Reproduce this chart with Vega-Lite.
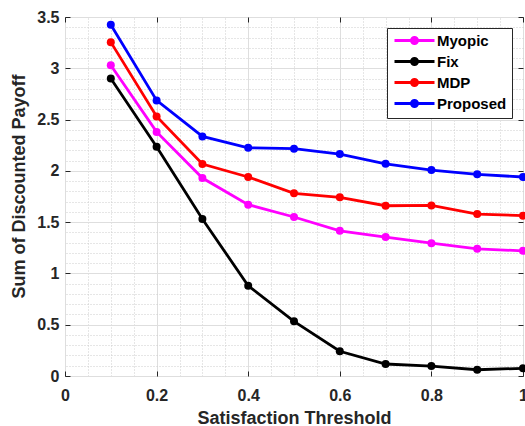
{
  "$schema": "https://vega.github.io/schema/vega-lite/v6.json",
  "width": 458,
  "height": 359,
  "autosize": {"type": "none"},
  "padding": {"left": 65, "top": 17, "right": 2, "bottom": 50},
  "background": "white",
  "config": {
    "view": {"stroke": "#262626", "strokeWidth": 1},
    "font": "Liberation Sans",
    "axis": {"labelFont": "Liberation Sans", "titleFont": "Liberation Sans", "labelColor": "#262626", "titleColor": "#262626"}
  },
  "data": {
    "values": [
      {"t": 0.1, "method": "Myopic", "v": 3.03},
      {"t": 0.2, "method": "Myopic", "v": 2.38},
      {"t": 0.3, "method": "Myopic", "v": 1.93},
      {"t": 0.4, "method": "Myopic", "v": 1.67},
      {"t": 0.5, "method": "Myopic", "v": 1.55},
      {"t": 0.6, "method": "Myopic", "v": 1.415},
      {"t": 0.7, "method": "Myopic", "v": 1.355},
      {"t": 0.8, "method": "Myopic", "v": 1.295},
      {"t": 0.9, "method": "Myopic", "v": 1.24},
      {"t": 1.0, "method": "Myopic", "v": 1.22},
      {"t": 0.1, "method": "Fix", "v": 2.9},
      {"t": 0.2, "method": "Fix", "v": 2.235},
      {"t": 0.3, "method": "Fix", "v": 1.53},
      {"t": 0.4, "method": "Fix", "v": 0.88},
      {"t": 0.5, "method": "Fix", "v": 0.533},
      {"t": 0.6, "method": "Fix", "v": 0.241},
      {"t": 0.7, "method": "Fix", "v": 0.117},
      {"t": 0.8, "method": "Fix", "v": 0.097},
      {"t": 0.9, "method": "Fix", "v": 0.061},
      {"t": 1.0, "method": "Fix", "v": 0.075},
      {"t": 0.1, "method": "MDP", "v": 3.255},
      {"t": 0.2, "method": "MDP", "v": 2.53},
      {"t": 0.3, "method": "MDP", "v": 2.066},
      {"t": 0.4, "method": "MDP", "v": 1.94},
      {"t": 0.5, "method": "MDP", "v": 1.781},
      {"t": 0.6, "method": "MDP", "v": 1.742},
      {"t": 0.7, "method": "MDP", "v": 1.66},
      {"t": 0.8, "method": "MDP", "v": 1.663},
      {"t": 0.9, "method": "MDP", "v": 1.579},
      {"t": 1.0, "method": "MDP", "v": 1.563},
      {"t": 0.1, "method": "Proposed", "v": 3.424},
      {"t": 0.2, "method": "Proposed", "v": 2.687},
      {"t": 0.3, "method": "Proposed", "v": 2.336},
      {"t": 0.4, "method": "Proposed", "v": 2.225},
      {"t": 0.5, "method": "Proposed", "v": 2.216},
      {"t": 0.6, "method": "Proposed", "v": 2.164},
      {"t": 0.7, "method": "Proposed", "v": 2.069},
      {"t": 0.8, "method": "Proposed", "v": 2.008},
      {"t": 0.9, "method": "Proposed", "v": 1.966},
      {"t": 1.0, "method": "Proposed", "v": 1.94}
    ]
  },
  "resolve": {"axis": {"x": "independent", "y": "independent"}},
  "layer": [
    {
      "mark": {"type": "point", "opacity": 0},
      "encoding": {
        "x": {"field": "t", "type": "quantitative", "scale": {"domain": [0, 1], "nice": false, "zero": false},
          "axis": {"orient": "top", "values": [0.05,0.1,0.15,0.2,0.25,0.3,0.35,0.4,0.45,0.5,0.55,0.6,0.65,0.7,0.75,0.8,0.85,0.9,0.95], "grid": true, "gridDash": [1, 2], "gridColor": "#cccccc", "gridWidth": 1, "ticks": false, "labels": false, "domain": false, "title": null}},
        "y": {"field": "v", "type": "quantitative", "scale": {"domain": [0, 3.5], "nice": false},
          "axis": {"orient": "right", "values": [0.1,0.2,0.3,0.4,0.6,0.7,0.8,0.9,1.1,1.2,1.3,1.4,1.6,1.7,1.8,1.9,2.1,2.2,2.3,2.4,2.6,2.7,2.8,2.9,3.1,3.2,3.3,3.4], "grid": true, "gridDash": [1, 2], "gridColor": "#cccccc", "gridWidth": 1, "ticks": false, "labels": false, "domain": false, "title": null}}
      }
    },
    {
      "mark": {"type": "point", "opacity": 0},
      "encoding": {
        "x": {"field": "t", "type": "quantitative",
          "axis": {"orient": "top", "values": [0, 0.2, 0.4, 0.6, 0.8, 1], "grid": false, "ticks": true, "tickSize": -5, "tickColor": "#262626", "labels": false, "domain": false, "title": null}},
        "y": {"field": "v", "type": "quantitative",
          "axis": {"orient": "right", "values": [0, 0.5, 1, 1.5, 2, 2.5, 3, 3.5], "grid": false, "ticks": true, "tickSize": -5, "tickColor": "#262626", "labels": false, "domain": false, "title": null}}
      }
    },
    {
      "mark": {"type": "line", "strokeWidth": 2.8},
      "encoding": {
        "x": {"field": "t", "type": "quantitative",
          "axis": {"orient": "bottom", "values": [0, 0.2, 0.4, 0.6, 0.8, 1], "format": "~g", "grid": true, "gridColor": "#dedede", "gridWidth": 1, "ticks": true, "tickSize": -5, "tickColor": "#262626", "domain": false, "labelFontSize": 16, "labelFontWeight": "bold", "labelPadding": 16, "labelFlush": false, "title": "Satisfaction Threshold", "titleFontSize": 18, "titleFontWeight": "bold", "titleY": 42, "titleBaseline": "middle"}},
        "y": {"field": "v", "type": "quantitative",
          "axis": {"orient": "left", "values": [0, 0.5, 1, 1.5, 2, 2.5, 3, 3.5], "format": "~g", "grid": true, "gridColor": "#dedede", "gridWidth": 1, "ticks": true, "tickSize": -5, "tickColor": "#262626", "domain": false, "labelFontSize": 16, "labelFontWeight": "bold", "labelPadding": 11, "labelFlush": false, "title": "Sum of Discounted Payoff", "titleFontSize": 18, "titleFontWeight": "bold", "titleX": -46, "titleY": 169, "titleBaseline": "middle", "titleAlign": "center", "titleAngle": -90}},
        "color": {"field": "method", "type": "nominal",
          "scale": {"domain": ["Myopic", "Fix", "MDP", "Proposed"], "range": ["#ff00ff", "#000000", "#ff0000", "#0000ff"]},
          "legend": {"orient": "none", "legendX": 322, "legendY": 11, "title": null, "strokeColor": "#262626", "fillColor": "white", "padding": 5, "rowPadding": 2,
            "symbolType": "M-4,0L4,0M0.6,0A0.6,0.6,0,1,1,-0.6,0A0.6,0.6,0,1,1,0.6,0", "symbolSize": 100, "symbolOffset": 15, "labelOffset": 15, "symbolStrokeWidth": 3,
            "labelFont": "Liberation Sans", "labelFontSize": 15, "labelFontWeight": "bold", "labelColor": "#000000",
            "encode": {"symbols": {"update": {"fill": {"scale": "color", "field": "value"}, "stroke": {"scale": "color", "field": "value"}, "strokeWidth": {"value": 3}, "opacity": {"value": 1}}}}}}
      }
    },
    {
      "mark": {"type": "circle", "size": 64, "opacity": 1},
      "encoding": {
        "x": {"field": "t", "type": "quantitative", "axis": null},
        "y": {"field": "v", "type": "quantitative", "axis": null},
        "color": {"field": "method", "type": "nominal"}
      }
    }
  ]
}
